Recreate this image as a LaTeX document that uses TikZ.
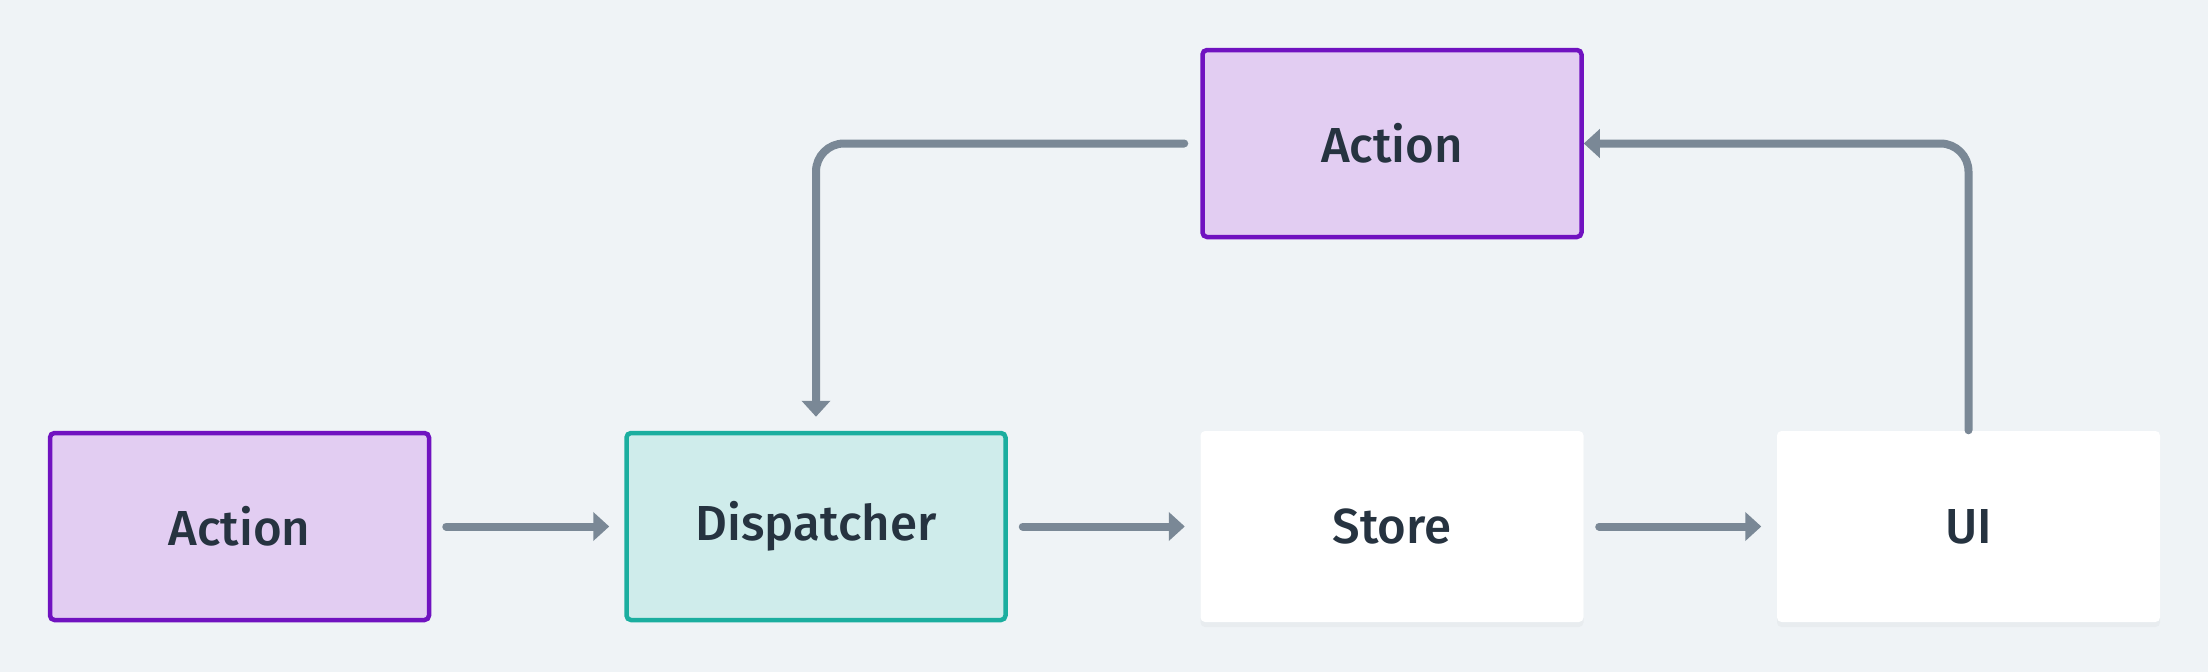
\documentclass[tikz,border=0pt]{standalone}
\usepackage{fontspec}
\setmainfont{Fira Sans}[UprightFont = * Medium]
\usepackage{xcolor}
\usepackage{tikz}
\usetikzlibrary{arrows.meta,positioning,shadows}
\definecolor{bgcol}{HTML}{EFF3F6}
\definecolor{actfill}{HTML}{E2CDF2}
\definecolor{actline}{HTML}{7012C0}
\definecolor{dispfill}{HTML}{CFECEB}
\definecolor{displine}{HTML}{1BAE9F}
\definecolor{flowcol}{HTML}{7A8896}
\definecolor{txtcol}{HTML}{263340}

\begin{document}
\begin{tikzpicture}[x = .1mm, y = -.1mm,
    box/.style = {rectangle, rounded corners = .45mm, minimum width = 37.9mm, minimum height = 18.7mm,
        text = txtcol, font = \fontsize{14}{17}\selectfont},
    actbox/.style = {box, draw = actline, fill = actfill, line width = .45mm},
    dispbox/.style = {box, draw = displine, fill = dispfill, line width = .45mm},
    plainbox/.style = {box, fill = white, minimum width = 38.3mm, minimum height = 19.1mm,
        drop shadow = {opacity = .06, shadow xshift = 0mm, shadow yshift = -.5mm}},
    flow/.style = {draw = flowcol, line width = .8mm, line cap = round, line join = round,
        -{Triangle[length = 1.6mm, width = 2.8mm]}}]
    \fill[bgcol] (0,0) rectangle (2208,672);
    \node[actbox] (act) at (239.5,526.5) {Action};
    \node[dispbox] (disp) at (816,526.5) {Dispatcher};
    \node[plainbox] (store) at (1392,526.5) {Store};
    \node[plainbox] (ui) at (1968.5,526.5) {UI};
    \node[actbox] (act2) at (1392,143.5) {Action};
    \draw[flow, shorten < = 1.5mm, shorten > = 1.5mm] (act) -- (disp);
    \draw[flow, shorten < = 1.5mm, shorten > = 1.5mm] (disp) -- (store);
    \draw[flow, shorten < = 1.5mm, shorten > = 1.5mm] (store) -- (ui);
    \draw[flow, rounded corners = 2.8mm, shorten < = 1.6mm, shorten > = 1.4mm] (act2.west) -| (disp.north);
    \draw[flow, rounded corners = 2.8mm] (ui.north) |- (act2.east);
\end{tikzpicture}
\end{document}
